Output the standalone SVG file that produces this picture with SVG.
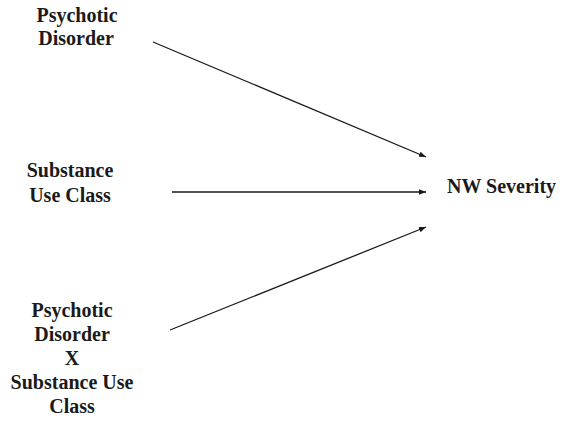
<svg xmlns="http://www.w3.org/2000/svg" width="570" height="421" viewBox="0 0 570 421">
<defs>
<style>
text{font-family:"Liberation Serif","Times New Roman",serif;font-weight:bold;font-size:20px;fill:#1a1a1a}
.c{text-anchor:middle}
.e{stroke:#1a1a1a;stroke-width:1.3;fill:none}
</style>
<marker id="ah" viewBox="0 0 10 10" refX="10" refY="5" markerWidth="7" markerHeight="7" markerUnits="userSpaceOnUse" orient="auto">
<path d="M0,1 L10,5 L0,9 z" fill="#1a1a1a"/>
</marker>
</defs>
<rect width="570" height="421" fill="#fff"/>
<g id="n1">
<text class="c" x="77" y="22">Psychotic</text>
<text class="c" x="76" y="45">Disorder</text>
</g>
<g id="n2">
<text class="c" x="70" y="177">Substance</text>
<text class="c" x="70" y="202">Use Class</text>
</g>
<g id="n3">
<text class="c" x="72" y="317">Psychotic</text>
<text class="c" x="72" y="341">Disorder</text>
<text class="c" x="72" y="365">X</text>
<text class="c" x="72" y="389">Substance Use</text>
<text class="c" x="72" y="413">Class</text>
</g>
<g id="n4">
<text x="447" y="193">NW Severity</text>
</g>
<g id="edges">
<line class="e" x1="153" y1="42" x2="426" y2="157" marker-end="url(#ah)"/>
<line class="e" x1="172" y1="192" x2="426" y2="192" marker-end="url(#ah)"/>
<line class="e" x1="170" y1="330" x2="426" y2="227" marker-end="url(#ah)"/>
</g>
</svg>
